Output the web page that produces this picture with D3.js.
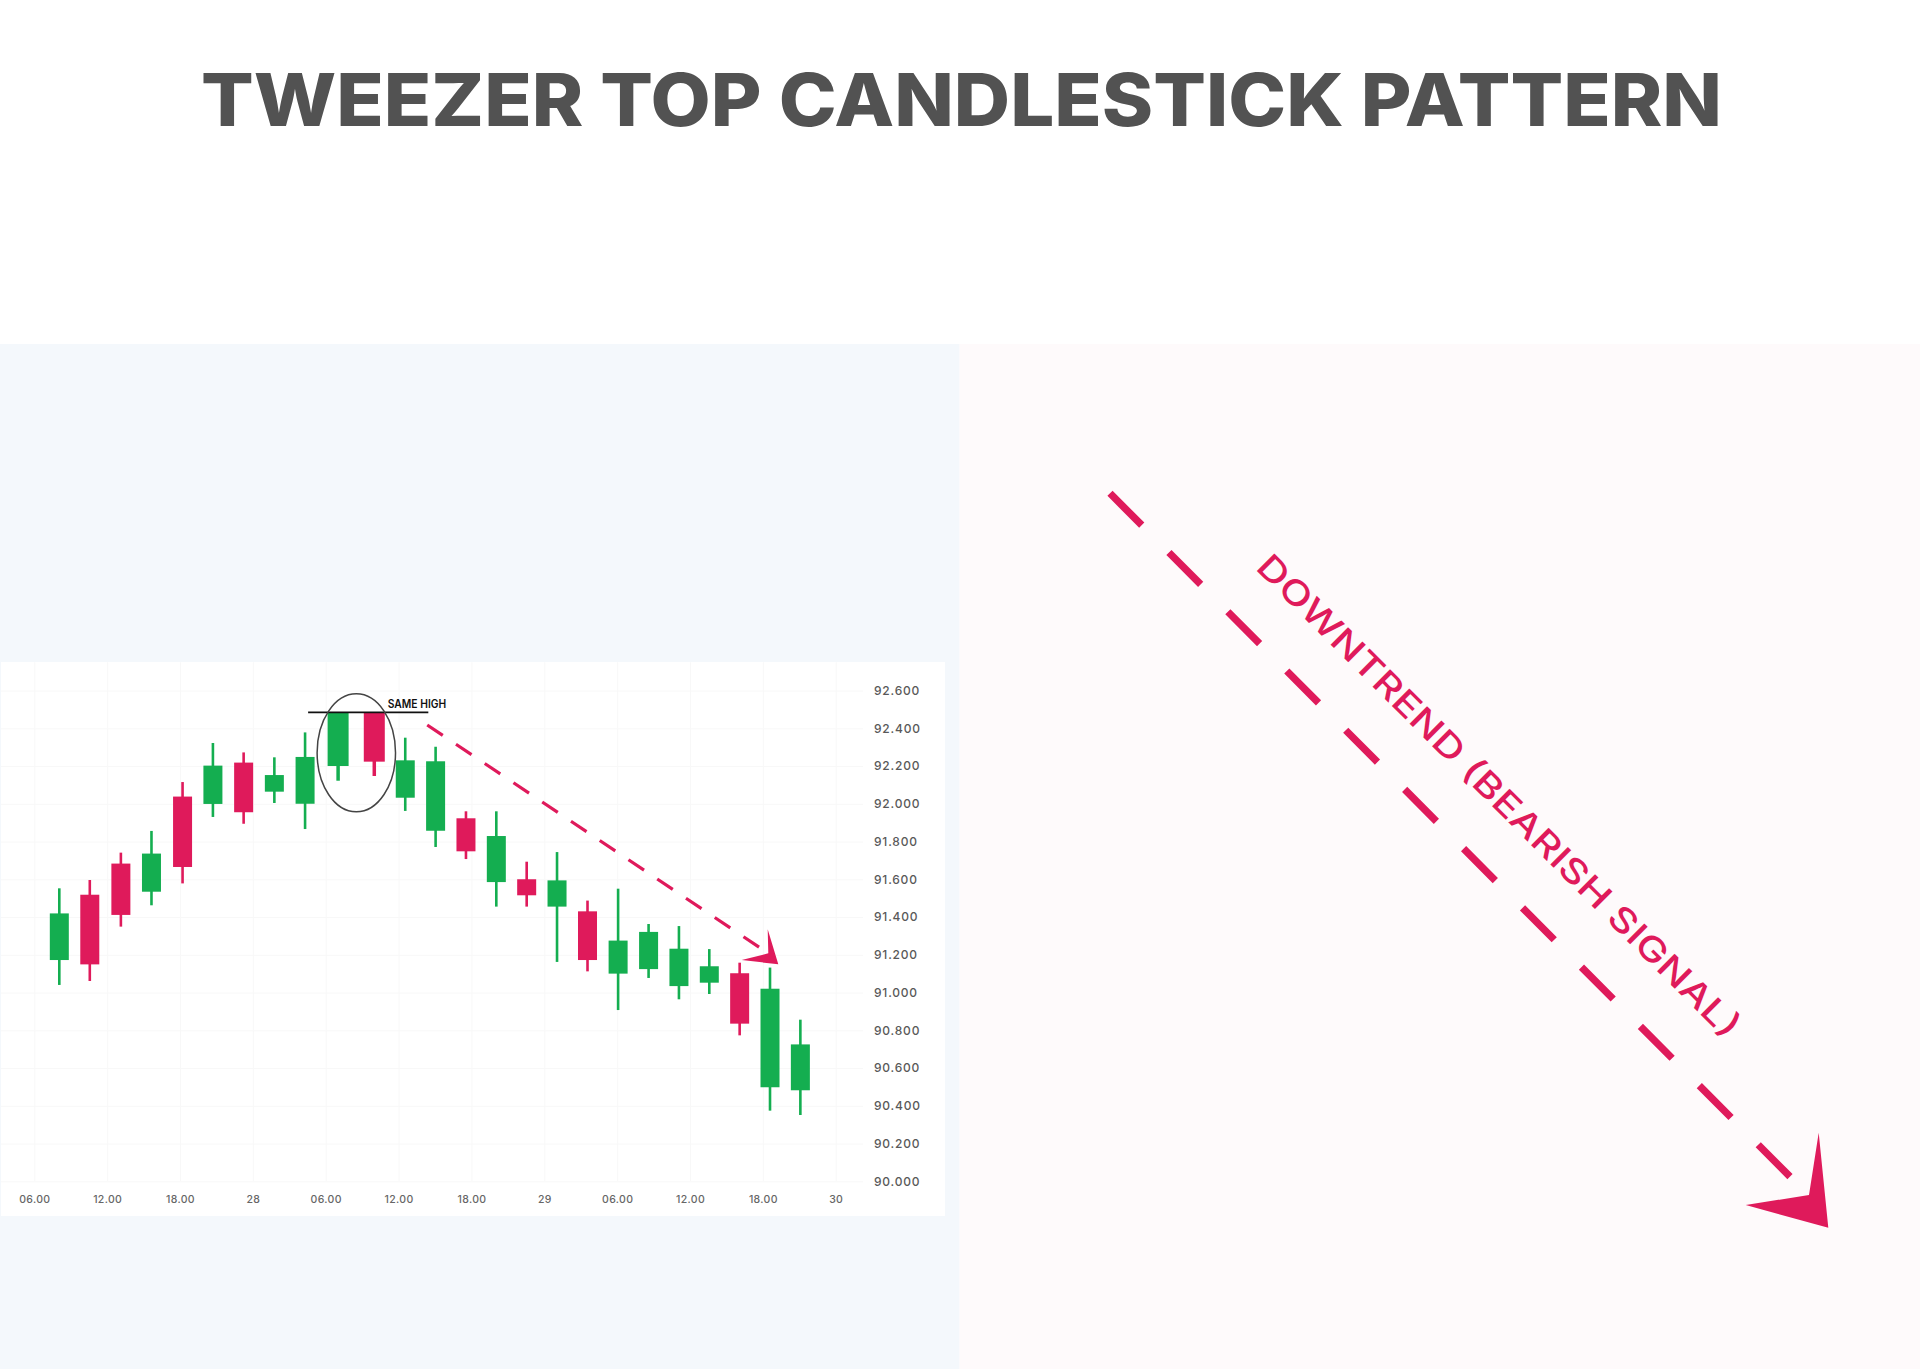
<!DOCTYPE html>
<html>
<head>
<meta charset="utf-8">
<title>Tweezer Top Candlestick Pattern</title>
<style>
  html, body { margin: 0; padding: 0; background: #fff; }
  svg { display: block; }
  .tick line { stroke: #f8f8f8; }
  .y-axis text { font: 500 12px Inter, sans-serif; letter-spacing: .8px; fill: #595959; }
  .x-axis text { font: 500 10.5px Inter, sans-serif; letter-spacing: .35px; fill: #666; }
</style>
<script src="https://cdnjs.cloudflare.com/ajax/libs/d3/7.8.5/d3.min.js"></script>
</head>
<body>
<svg id="graph" width="1920" height="1371"></svg>
<script>
  // hours counted from 00.00 on the 27th
  var hours = [8.06, 10.57, 13.13, 15.65, 18.21, 20.71, 23.24, 25.77, 28.30, 31.02, 34.00, 36.55, 39.05,
               41.55, 44.05, 46.55, 49.05, 51.56, 54.08, 56.59, 59.09, 61.59, 64.09, 66.59, 69.09];
  var opens = [91.172, 91.518, 91.683, 91.534, 92.038, 91.999, 92.218, 92.064, 92.000, 92.200, 92.484, 92.032, 91.857,
               91.923, 91.585, 91.600, 91.455, 91.430, 91.100, 91.124, 91.034, 91.052, 91.102, 90.498, 90.482];
  var closes = [91.419, 91.149, 91.411, 91.736, 91.665, 92.202, 91.955, 92.152, 92.248, 92.484, 92.223, 92.230, 92.225,
                91.748, 91.829, 91.515, 91.594, 91.172, 91.275, 91.321, 91.232, 91.139, 90.835, 91.020, 90.725];
  var highs = [91.552, 91.596, 91.741, 91.856, 92.115, 92.322, 92.272, 92.246, 92.378, 92.484, 92.484, 92.350, 92.302,
               91.960, 91.960, 91.693, 91.744, 91.487, 91.550, 91.363, 91.352, 91.230, 91.158, 91.132, 90.856];
  var lows = [91.040, 91.061, 91.349, 91.462, 91.578, 91.930, 91.894, 92.004, 91.866, 92.122, 92.147, 91.962, 91.771,
              91.707, 91.455, 91.455, 91.162, 91.112, 90.907, 91.077, 90.964, 90.992, 90.773, 90.374, 90.351];

  var xTickHours = [6, 12, 18, 24, 30, 36, 42, 48, 54, 60, 66, 72];
  var xTickLabels = ["06.00", "12.00", "18.00", "28", "06.00", "12.00", "18.00", "29", "06.00", "12.00", "18.00", "30"];
  var yTicks = [90, 90.2, 90.4, 90.6, 90.8, 91, 91.2, 91.4, 91.6, 91.8, 92, 92.2, 92.4, 92.6];

  var sameHigh = 92.484;

  var GREEN = "#14ae50", RED = "#df1a5b";

  var svg = d3.select("#graph");

  // background panels
  svg.append("rect").attr("x", 0).attr("y", 344).attr("width", 959.5).attr("height", 1025).attr("fill", "#f4f8fc");
  svg.append("rect").attr("x", 959.5).attr("y", 344).attr("width", 960.5).attr("height", 1025).attr("fill", "#fefafb");
  svg.append("rect").attr("x", 1).attr("y", 662).attr("width", 944).attr("height", 554).attr("fill", "#fff");

  svg.append("text")
      .attr("x", 201).attr("y", 126)
      .attr("textLength", 1521).attr("lengthAdjust", "spacingAndGlyphs")
      .style("font", "800 72.5px Inter, sans-serif")
      .style("fill", "#525252")
      .text("TWEEZER TOP CANDLESTICK PATTERN");

  var x = d3.scaleLinear().domain([6, 72]).range([34.3, 835.7]);
  var y = d3.scaleLinear().domain([90, 92.6]).range([1181.25, 690.5]);

  var xAxis = d3.axisBottom(x)
      .tickValues(xTickHours)
      .tickFormat(function(d, i) { return xTickLabels[i]; })
      .tickSize(-519)
      .tickPadding(14);
  var yAxis = d3.axisRight(y)
      .tickValues(yTicks)
      .tickFormat(d3.format(".3f"))
      .tickSize(-862)
      .tickPadding(11);

  svg.append("g").attr("class", "x-axis")
      .attr("transform", "translate(0,1181.25)").call(xAxis)
      .call(function(g) { g.select(".domain").remove(); });
  svg.append("g").attr("class", "y-axis")
      .attr("transform", "translate(863,0)").call(yAxis)
      .call(function(g) { g.select(".domain").remove(); });

  // candles
  var candles = svg.append("g").selectAll("g")
      .data(hours).enter().append("g")
      .style("fill", function(d, i) { return closes[i] >= opens[i] ? GREEN : RED; })
      .style("stroke", function(d, i) { return closes[i] >= opens[i] ? GREEN : RED; });

  // the two tweezer candles are drawn a little heavier in the picture
  function isTweezer(i) { return highs[i] === sameHigh; }

  candles.append("line")
      .attr("x1", function(d) { return x(d); })
      .attr("x2", function(d) { return x(d); })
      .attr("y1", function(d, i) { return y(highs[i]); })
      .attr("y2", function(d, i) { return y(lows[i]); })
      .style("stroke-width", function(d, i) { return isTweezer(i) ? 3.5 : 2.6; });

  function bodyWidth(i) { return isTweezer(i) ? 21 : 19; }

  candles.append("rect")
      .attr("x", function(d, i) { return x(d) - bodyWidth(i) / 2; })
      .attr("width", function(d, i) { return bodyWidth(i); })
      .attr("y", function(d, i) { return y(Math.max(opens[i], closes[i])); })
      .attr("height", function(d, i) { return Math.abs(y(opens[i]) - y(closes[i])); })
      .style("stroke", "none");

  // same high marker
  svg.append("line")
      .attr("x1", x(28.55)).attr("x2", x(38.45))
      .attr("y1", y(sameHigh)).attr("y2", y(sameHigh))
      .style("stroke", "#111").style("stroke-width", 1.6);
  svg.append("ellipse")
      .attr("cx", x(32.52)).attr("cy", y(92.27))
      .attr("rx", 39.2).attr("ry", 59)
      .style("fill", "none").style("stroke", "#444").style("stroke-width", 1.5);
  svg.append("text")
      .attr("x", 387.7).attr("y", 708)
      .attr("textLength", 58.5).attr("lengthAdjust", "spacingAndGlyphs")
      .style("font", "600 11.5px Inter, sans-serif").style("fill", "#111")
      .text("SAME HIGH");

  // small dashed arrow over the falling candles
  svg.append("line")
      .attr("x1", x(38.36)).attr("y1", y(92.417))
      .attr("x2", x(65.71)).attr("y2", y(91.239))
      .style("stroke", RED).style("stroke-width", 3.2)
      .style("stroke-dasharray", "18.7 15.9");
  svg.append("path")
      .attr("d", "M778.3,964.3L767.7,929.3L768.3,953.3L741.7,960Z")
      .style("fill", RED);

  // right panel
  svg.append("line")
      .attr("x1", 1110).attr("y1", 493.3).attr("x2", 1790).attr("y2", 1176.7)
      .style("stroke", RED).style("stroke-width", 7.3)
      .style("stroke-dasharray", "45 38.55");
  svg.append("path")
      .attr("d", "M1828.3,1227.7L1818.7,1132.7L1809,1195L1745.7,1205Z")
      .style("fill", RED);
  svg.append("text")
      .attr("transform", "translate(1254.5,568.5) rotate(45)")
      .attr("textLength", 667).attr("lengthAdjust", "spacingAndGlyphs")
      .style("font", "500 34px Inter, sans-serif").style("fill", RED)
      .text("DOWNTREND (BEARISH SIGNAL)");
</script>
</body>
</html>
